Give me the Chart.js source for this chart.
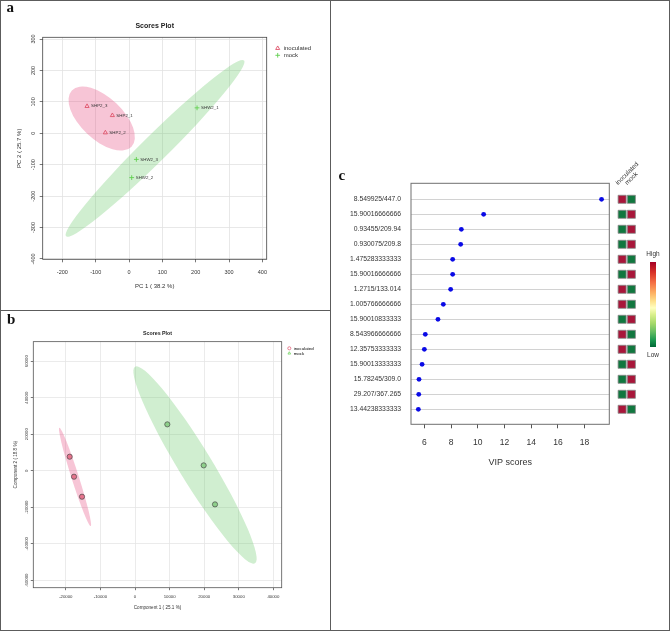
<!DOCTYPE html>
<html><head><meta charset="utf-8">
<script src="https://cdn.jsdelivr.net/npm/chart.js@4.4.1/dist/chart.umd.min.js"></script>
<style>
html,body{margin:0;padding:0;background:#fff;}
#fig{position:relative;width:670px;height:631px;overflow:hidden;background:#fff;}
#fig canvas{position:absolute;}
.plab{position:absolute;font-family:"Liberation Serif","Times New Roman",serif;font-weight:bold;font-size:15px;line-height:1;color:#111;}
.rule{position:absolute;background:#5c5c5c;}
.cbt{position:absolute;font-family:"Liberation Sans",Arial,sans-serif;font-size:6.5px;line-height:1;color:#333;width:20px;text-align:center;}
#cbar{position:absolute;left:650px;top:262px;width:6px;height:85px;
 background:linear-gradient(to bottom,#a50026 0%,#d73027 12%,#f46d43 24%,#fdae61 36%,#fee08b 46%,#ffffbf 54%,#d9ef8b 62%,#a6d96a 72%,#66bd63 82%,#1a9850 92%,#006837 100%);}
</style></head><body>
<div id="fig">
  <canvas id="ca" width="331" height="311" style="left:0;top:0"></canvas>
  <canvas id="cb" width="331" height="320" style="left:0;top:311px"></canvas>
  <canvas id="cc" width="339" height="631" style="left:331px;top:0"></canvas>
  <canvas id="ch" width="50" height="280" style="left:611px;top:150px"></canvas>
  <div id="cbar"></div>
  <div class="cbt" style="left:643px;top:251px">High</div>
  <div class="cbt" style="left:643px;top:351.5px">Low</div>
  <div class="plab" style="left:6.5px;top:0px">a</div>
  <div class="plab" style="left:7px;top:312px">b</div>
  <div class="plab" style="left:338.5px;top:168px">c</div>
  <div class="rule" style="left:0;top:0;width:670px;height:1px"></div>
  <div class="rule" style="left:0;top:630px;width:670px;height:1px"></div>
  <div class="rule" style="left:0;top:0;width:1px;height:631px"></div>
  <div class="rule" style="left:669px;top:0;width:1px;height:631px"></div>
  <div class="rule" style="left:330px;top:0;width:1px;height:631px"></div>
  <div class="rule" style="left:0;top:310px;width:331px;height:1px"></div>
</div>
<script>
// ================= DATA =================
// Panel a : PCA scores plot
const pcaGroups = ['inoculated', 'mock'];
const pcaInocNames = ['SHP2_1', 'SHP2_2', 'SHP2_3'];
const pcaInocPC1 = [-50, -71, -126];
const pcaInocPC2 = [57, 2, 86];
const pcaMockNames = ['SHW2_1', 'SHW2_2', 'SHW2_3'];
const pcaMockPC1 = [204, 8, 22];
const pcaMockPC2 = [81, -141, -83];
const pcaXTicks = [-200, -100, 0, 100, 200, 300, 400];
const pcaYTicks = [-400, -300, -200, -100, 0, 100, 200, 300];
// confidence ellipses: centre x, centre y, 1st semi-axis (dx, dy), 2nd semi-axis (dx, dy)
const pcaInocEllipse = [-82, 47, 89.5, -89.5, 43.6, 48.6];
const pcaMockEllipse = [78, -48, 267, 280, 28, -29];

// Panel b : PLS-DA scores plot
const plsGroups = ['inoculated', 'mock'];
const plsInocC1 = [-18880, -17630, -15320];
const plsInocC2 = [7670, -3290, -14250];
const plsMockC1 = [9340, 19850, 23120];
const plsMockC2 = [25390, 2920, -18450];
const plsXTicks = [-20000, -10000, 0, 10000, 20000, 30000, 40000];
const plsYTicks = [-60000, -40000, -20000, 0, 20000, 40000, 60000];
const plsInocEllipse = [-17340, -3380, -4530, 26940, 1010, 600];
const plsMockEllipse = [17340, 3130, -17340, 53860, 4110, 4750];

// Panel c : VIP scores
const vipFeatures = ['8.549925/447.0', '15.90016666666', '0.93455/209.94', '0.930075/209.8',
  '1.475283333333', '15.90016666666', '1.2715/133.014', '1.005766666666', '15.90010833333',
  '8.543966666666', '12.35753333333', '15.90013333333', '15.78245/309.0', '29.207/367.265',
  '13.44238333333'];
const vipScores = [19.27, 10.44, 8.77, 8.72, 8.12, 8.12, 7.97, 7.42, 7.02, 6.07, 6.0, 5.83, 5.6, 5.58, 5.55];
const vipTicks = [6, 8, 10, 12, 14, 16, 18];
const heatGroups = ['inoculated', 'mock'];
// relative abundance: 1 = high, 0 = low
const heatInoculated = [1, 0, 0, 0, 1, 0, 1, 1, 0, 1, 1, 0, 0, 0, 1];
const heatMock       = [0, 1, 1, 1, 0, 1, 0, 0, 1, 0, 0, 1, 1, 1, 0];

// ================= STYLE =================
const SANS = "'Liberation Sans', Arial, sans-serif";
Chart.defaults.font.family = SANS;
const PINK = '#df536b', GREEN = '#61d04f';
const PINK_FILL = 'rgba(230,80,130,0.33)', GREEN_FILL = 'rgba(100,200,100,0.30)';
const HIGH = '#a8163a', LOW = '#11773f';
const heatColor = v => v >= 0.5 ? HIGH : LOW;
const plain = v => String(v);

// ================= PLUGINS =================
const ellipsePlugin = {
  id: 'ellipses',
  beforeDatasetsDraw(chart, args, opts) {
    const {ctx, chartArea: a, scales: {x, y}} = chart;
    const x0 = x.getPixelForValue(0), sx = (x.getPixelForValue(1000) - x0) / 1000;
    const y0 = y.getPixelForValue(0), sy = (y.getPixelForValue(1000) - y0) / 1000;
    ctx.save();
    ctx.beginPath(); ctx.rect(a.left, a.top, a.width, a.height); ctx.clip();
    (opts.items || []).forEach(it => {
      const [cx, cy, ax, ay, bx, by] = it.e;
      ctx.save();
      ctx.transform(sx, 0, 0, sy, x0, y0);
      ctx.transform(ax, ay, bx, by, cx, cy);
      ctx.beginPath();
      ctx.arc(0, 0, 1, 0, Math.PI * 2);
      ctx.restore();
      ctx.fillStyle = it.color;
      ctx.fill();
    });
    ctx.restore();
  }
};
const boxPlugin = {
  id: 'plotBox',
  afterDatasetsDraw(chart, args, opts) {
    const {ctx, chartArea: a} = chart;
    ctx.save();
    ctx.strokeStyle = opts.color || '#444';
    ctx.lineWidth = opts.width || 1;
    ctx.strokeRect(a.left, a.top, a.width, a.height);
    ctx.restore();
  }
};
const pointLabelPlugin = {
  id: 'pointLabels',
  afterDatasetsDraw(chart, args, opts) {
    if (!opts.sets) return;
    const ctx = chart.ctx;
    ctx.save();
    ctx.font = opts.font;
    ctx.fillStyle = opts.color;
    ctx.textBaseline = 'middle';
    ctx.textAlign = 'left';
    opts.sets.forEach((names, di) => {
      if (!names) return;
      chart.getDatasetMeta(di).data.forEach((el, j) => ctx.fillText(names[j], el.x + opts.dx, el.y));
    });
    ctx.restore();
  }
};
const legendPlace = {
  id: 'legendPlace',
  afterLayout(chart, args, opts) {
    const l = chart.legend;
    if (!l || opts.x === undefined) return;
    const w = l.width, h = l.height;
    l.left = opts.x; l.top = opts.y; l.right = opts.x + w; l.bottom = opts.y + h;
  }
};
const fixedTicks = arr => s => { s.ticks = arr.map(v => ({value: v})); };

// ================= PANEL a =================
new Chart(document.getElementById('ca'), {
  type: 'scatter',
  data: {datasets: [
    {label: pcaGroups[0], data: pcaInocPC1.map((v, i) => ({x: v, y: pcaInocPC2[i]})),
     pointStyle: 'triangle', pointRadius: 2.4, backgroundColor: 'rgba(0,0,0,0)', borderColor: PINK, borderWidth: 0.9},
    {label: pcaGroups[1], data: pcaMockPC1.map((v, i) => ({x: v, y: pcaMockPC2[i]})),
     pointStyle: 'cross', pointRadius: 2.4, backgroundColor: GREEN, borderColor: GREEN, borderWidth: 0.9}
  ]},
  options: {
    responsive: false, animation: false, events: [],
    layout: {padding: {left: 0, top: 0, right: 64.3, bottom: 0}},
    plugins: {
      title: {display: true, text: 'Scores Plot', fullSize: false, color: '#222',
        font: {size: 7, weight: 'bold'}, padding: {top: 21.8, bottom: 7.1}},
      legend: {display: true, position: 'chartArea', align: 'start',
        labels: {usePointStyle: true, boxHeight: 3.3, padding: 1, color: '#333', font: {size: 6}}},
      tooltip: {enabled: false},
      legendPlace: {x: 273.7, y: 44.3},
      ellipses: {items: [{e: pcaInocEllipse, color: PINK_FILL}, {e: pcaMockEllipse, color: GREEN_FILL}]},
      plotBox: {color: '#444', width: 0.8},
      pointLabels: {sets: [pcaInocNames, pcaMockNames], font: `4.4px ${SANS}`, color: '#333', dx: 4}
    },
    scales: {
      x: {type: 'linear', min: -259, max: 413, afterBuildTicks: fixedTicks(pcaXTicks),
        afterFit: s => { s.height = 51.7; },
        grid: {color: '#e2e2e2', lineWidth: 0.8, tickColor: '#555', tickLength: 3},
        border: {display: false},
        ticks: {autoSkip: false, maxRotation: 0, padding: 7.1, color: '#333', font: {size: 5.5}, callback: plain},
        title: {display: true, text: 'PC 1 ( 38.2 %)', color: '#333', font: {size: 6}, padding: {top: 0, bottom: 21.4}}},
      y: {type: 'linear', min: -401, max: 305.5, afterBuildTicks: fixedTicks(pcaYTicks),
        afterFit: s => { s.width = 42.7; },
        grid: {color: '#e2e2e2', lineWidth: 0.8, tickColor: '#555', tickLength: 3},
        border: {display: false},
        ticks: {autoSkip: false, minRotation: 90, maxRotation: 90, crossAlign: 'center', padding: 0.9, color: '#333', font: {size: 5.5}, callback: plain},
        title: {display: true, text: 'PC 2 ( 25.7 %)', color: '#333', font: {size: 6}, padding: {top: 15.7, bottom: 0}}}
    }
  },
  plugins: [ellipsePlugin, boxPlugin, pointLabelPlugin, legendPlace]
});

// ================= PANEL b =================
new Chart(document.getElementById('cb'), {
  type: 'scatter',
  data: {datasets: [
    {label: plsGroups[0], data: plsInocC1.map((v, i) => ({x: v, y: plsInocC2[i]})),
     pointStyle: 'circle', pointRadius: 2.6, backgroundColor: '#e6738c', borderColor: '#4a4a4a', borderWidth: 0.7},
    {label: plsGroups[1], data: plsMockC1.map((v, i) => ({x: v, y: plsMockC2[i]})),
     pointStyle: 'circle', pointRadius: 2.6, backgroundColor: '#8dcf8a', borderColor: '#4a4a4a', borderWidth: 0.7}
  ]},
  options: {
    responsive: false, animation: false, events: [],
    layout: {padding: {left: 0, top: 0, right: 49.3, bottom: 0}},
    plugins: {
      title: {display: true, text: 'Scores Plot', fullSize: false, color: '#222',
        font: {size: 5.3, weight: 'bold'}, padding: {top: 19.1, bottom: 5.2}},
      legend: {display: true, position: 'chartArea', align: 'start',
        labels: {usePointStyle: true, boxHeight: 2.2, padding: 0.6, color: '#333', font: {size: 4.4},
          generateLabels: () => [
            {text: plsGroups[0], fillStyle: 'rgba(0,0,0,0)', strokeStyle: PINK, lineWidth: 0.7, pointStyle: 'circle', hidden: false, datasetIndex: 0},
            {text: plsGroups[1], fillStyle: 'rgba(0,0,0,0)', strokeStyle: GREEN, lineWidth: 0.7, pointStyle: 'triangle', hidden: false, datasetIndex: 1}
          ]}},
      tooltip: {enabled: false},
      legendPlace: {x: 286.5, y: 34.5},
      ellipses: {items: [{e: plsInocEllipse, color: PINK_FILL}, {e: plsMockEllipse, color: GREEN_FILL}]},
      plotBox: {color: '#555', width: 0.8}
    },
    scales: {
      x: {type: 'linear', min: -29400, max: 42400, afterBuildTicks: fixedTicks(plsXTicks),
        afterFit: s => { s.height = 43.3; },
        grid: {color: '#e6e6e6', lineWidth: 0.8, tickColor: '#555', tickLength: 2.5},
        border: {display: false},
        ticks: {autoSkip: false, maxRotation: 0, padding: 4.5, color: '#333', font: {size: 4.3}, callback: plain},
        title: {display: true, text: 'Component 1 ( 25.1 %)', color: '#333', font: {size: 4.6}, padding: {top: 0, bottom: 20.9}}},
      y: {type: 'linear', min: -64100, max: 70700, afterBuildTicks: fixedTicks(plsYTicks),
        afterFit: s => { s.width = 33.3; },
        grid: {color: '#e6e6e6', lineWidth: 0.8, tickColor: '#555', tickLength: 2.5},
        border: {display: false},
        ticks: {autoSkip: false, minRotation: 90, maxRotation: 90, crossAlign: 'center', padding: -2.6, color: '#333', font: {size: 4.3}, callback: plain},
        title: {display: true, text: 'Component 2 ( 18.8 %)', color: '#333', font: {size: 4.6}, padding: {top: 13.2, bottom: 0}}}
    }
  },
  plugins: [ellipsePlugin, boxPlugin, legendPlace]
});

// ================= PANEL c : VIP dot plot =================
new Chart(document.getElementById('cc'), {
  type: 'scatter',
  data: {datasets: [{label: 'VIP scores', data: vipScores.map((v, i) => ({x: v, y: i})),
    pointStyle: 'circle', pointRadius: 2.4, backgroundColor: '#0a0ae6', borderWidth: 0}]},
  options: {
    responsive: false, animation: false, events: [],
    layout: {padding: {left: 0, top: 183.3, right: 60.7, bottom: 156.7}},
    plugins: {legend: {display: false}, tooltip: {enabled: false}, plotBox: {color: '#707070', width: 1}},
    scales: {
      x: {type: 'linear', min: 5.0, max: 19.85, afterBuildTicks: fixedTicks(vipTicks),
        afterFit: s => { s.height = 50; },
        grid: {drawOnChartArea: false, tickLength: 4, tickColor: '#555'},
        border: {display: false},
        ticks: {autoSkip: false, maxRotation: 0, padding: 8.9, color: '#333', font: {size: 8.5}, callback: plain},
        title: {display: true, text: 'VIP scores', color: '#333', font: {size: 9}, padding: {top: 0, bottom: 6.2}}},
      y: {type: 'linear', min: -1.07, max: 15, reverse: true,
        afterBuildTicks: s => { s.ticks = vipFeatures.map((f, i) => ({value: i})); },
        afterFit: s => { s.width = 80; },
        grid: {color: '#d2d2d2', lineWidth: 1, drawTicks: false},
        border: {display: false},
        ticks: {autoSkip: false, padding: 10, color: '#333', font: {size: 6.8},
          callback: v => vipFeatures[v]}}
    }
  },
  plugins: [boxPlugin]
});

// ================= PANEL c : group heat-map =================
const heatCells = [];
vipFeatures.forEach((f, i) => {
  heatCells.push({x: heatGroups[0], y: i, v: heatInoculated[i]});
  heatCells.push({x: heatGroups[1], y: i, v: heatMock[i]});
});
new Chart(document.getElementById('ch'), {
  type: 'scatter',
  data: {datasets: [{label: 'group', data: heatCells, pointStyle: 'rect', pointRadius: 5.7,
    backgroundColor: c => heatColor(c.raw ? c.raw.v : 0), borderColor: '#8a8a8a', borderWidth: 0.8}]},
  options: {
    responsive: false, animation: false, events: [],
    layout: {padding: {left: 5, top: 0, right: 25, bottom: 13.2}},
    plugins: {legend: {display: false}, tooltip: {enabled: false}},
    scales: {
      x: {type: 'category', labels: heatGroups, position: 'top', offset: true,
        afterFit: s => { s.height = 41.8; },
        grid: {display: false}, border: {display: false},
        ticks: {autoSkip: false, minRotation: 45, maxRotation: 45, padding: -3, color: '#333', font: {size: 6.5}}},
      y: {type: 'linear', display: false, min: -0.5, max: 14.5, reverse: true}
    }
  }
});
</script>
</body></html>
